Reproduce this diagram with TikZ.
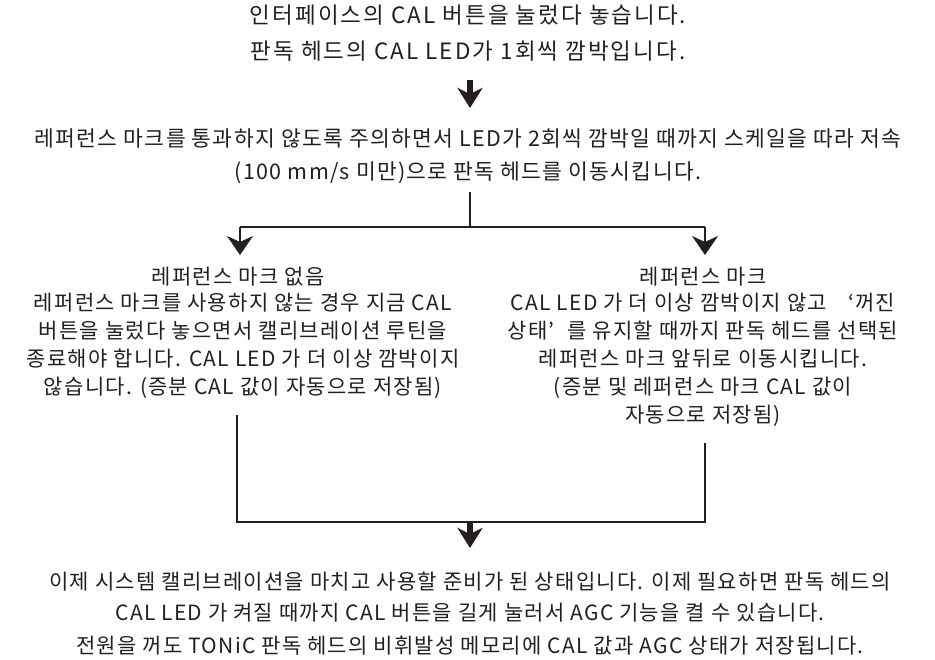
\documentclass[tikz,border=0pt]{standalone}
\usepackage{fontspec}
\setmainfont{Noto Sans CJK KR}[LetterSpace=6]
\newfontfamily\widekr{Noto Sans CJK KR}[LetterSpace=9]
\usetikzlibrary{arrows.meta}
\definecolor{ink}{HTML}{231F20}
\tikzset{
  headtxt/.style={font=\widekr\fontsize{22.5}{28}\selectfont, text=ink, inner sep=0pt, align=center, anchor=center},
  toptxt/.style={font=\fontsize{21.5}{33}\selectfont, text=ink, inner sep=0pt, align=center, anchor=center},
  partxt/.style={font=\fontsize{21}{28}\selectfont, text=ink, inner sep=0pt, align=center},
  bottxt/.style={font=\fontsize{21}{31}\selectfont, text=ink, inner sep=0pt, align=center, anchor=center},
  conn/.style={draw=ink, line width=1.7pt},
  thickarrow/.style={draw=ink, fill=ink, line width=5.5pt, -{Stealth[length=20pt,width=25pt,inset=6pt]}},
  thinarrow/.style={draw=ink, fill=ink, line width=1.7pt, -{Stealth[length=19pt,width=26pt,inset=6pt]}}
}
\begin{document}
\begin{tikzpicture}[x=1pt,y=-1pt]
\useasboundingbox (0,0) rectangle (935,660);
% top text
\node[headtxt] (t1) at (468,15) {인터페이스의 CAL 버튼을 눌렀다 놓습니다.};
\node[headtxt] (t2) at (468,51) {판독 헤드의 CAL LED가 1회씩 깜박입니다.};
\node[toptxt] (t3) at (468,156) {레퍼런스 마크를 통과하지 않도록 주의하면서 LED가 2회씩 깜박일 때까지 스케일을 따라 저속\\(100 mm/s 미만)으로 판독 헤드를 이동시킵니다.};
% first arrow
\coordinate (a1s) at (470,80);
\coordinate (a1e) at (470,108);
\draw[thickarrow] (a1s) -- (a1e);
% split
\coordinate (s1) at (470,192);
\coordinate (s2) at (470,227);
\coordinate (hl) at (240,227);
\coordinate (hr) at (705,227);
\coordinate (tl) at (240,255);
\coordinate (tr) at (705,255);
\draw[conn] (s1) -- (s2);
\draw[conn] (hl) -- (hr);
\draw[thinarrow] (hl) -- (tl);
\draw[thinarrow] (hr) -- (tr);
% left branch
\node[partxt] (lt) at (238,277) {레퍼런스 마크 없음};
\node[partxt, anchor=north] (lp) at (243,293) {레퍼런스 마크를 사용하지 않는 경우 지금 CAL\\버튼을 눌렀다 놓으면서 캘리브레이션 루틴을\\종료해야 합니다. CAL LED 가 더 이상 깜박이지\\않습니다. (증분 CAL 값이 자동으로 저장됨)};
% right branch
\node[partxt] (rt) at (703,277) {레퍼런스 마크};
\node[partxt, anchor=north] (rp) at (703,293) {CAL LED 가 더 이상 깜박이지 않고\hspace{1em}‘꺼진\\상태’\hspace{0.6em}를 유지할 때까지 판독 헤드를 선택된\\레퍼런스 마크 앞뒤로 이동시킵니다.\\(증분 및 레퍼런스 마크 CAL 값이\\자동으로 저장됨)};
% merge
\coordinate (ml) at (237,415);
\coordinate (mr) at (705,443);
\coordinate (bl) at (237,522);
\coordinate (br) at (705,522);
\coordinate (bm) at (470,522);
\coordinate (be) at (470,548);
\draw[conn] (ml) -- (bl) -- (br) -- (mr);
\draw[thickarrow] (bm) -- (be);
% bottom text
\node[bottxt] (b1) at (470,597) {이제 시스템 캘리브레이션을 마치고 사용할 준비가 된 상태입니다. 이제 필요하면 판독 헤드의\\CAL LED 가 켜질 때까지 CAL 버튼을 길게 눌러서 AGC 기능을 켤 수 있습니다.};
\node[bottxt] (b2) at (470,646) {전원을 꺼도 TONiC 판독 헤드의 비휘발성 메모리에 CAL 값과 AGC 상태가 저장됩니다.};
\end{tikzpicture}
\end{document}
